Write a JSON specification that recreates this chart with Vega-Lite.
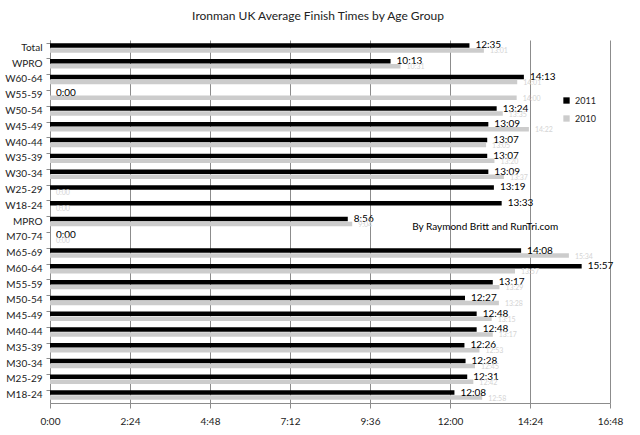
{
  "$schema": "https://vega.github.io/schema/vega-lite/v6.json",
  "autosize": "none",
  "width": 560,
  "height": 363,
  "padding": {"left": 50, "top": 40, "right": 30, "bottom": 32},
  "background": "white",
  "title": {
    "text": "Ironman UK Average Finish Times by Age Group",
    "font": "Lato",
    "fontSize": 12,
    "fontWeight": "normal",
    "color": "#222222",
    "anchor": "middle",
    "dx": -12,
    "offset": 17
  },
  "config": {
    "view": {"stroke": "transparent"},
    "font": "Lato"
  },
  "data": {
    "values": [
      {"group": "Total", "year": "2011", "min": 755, "label": "12:35"},
      {"group": "Total", "year": "2010", "min": 781, "label": "13:01"},
      {"group": "WPRO", "year": "2011", "min": 613, "label": "10:13"},
      {"group": "WPRO", "year": "2010", "min": 631, "label": "10:31"},
      {"group": "W60-64", "year": "2011", "min": 853, "label": "14:13"},
      {"group": "W60-64", "year": "2010", "min": 841, "label": "14:01"},
      {"group": "W55-59", "year": "2011", "min": 0, "label": "0:00"},
      {"group": "W55-59", "year": "2010", "min": 840, "label": "14:00"},
      {"group": "W50-54", "year": "2011", "min": 804, "label": "13:24"},
      {"group": "W50-54", "year": "2010", "min": 815, "label": "13:35"},
      {"group": "W45-49", "year": "2011", "min": 789, "label": "13:09"},
      {"group": "W45-49", "year": "2010", "min": 862, "label": "14:22"},
      {"group": "W40-44", "year": "2011", "min": 787, "label": "13:07"},
      {"group": "W40-44", "year": "2010", "min": 785, "label": "13:05"},
      {"group": "W35-39", "year": "2011", "min": 787, "label": "13:07"},
      {"group": "W35-39", "year": "2010", "min": 800, "label": "13:20"},
      {"group": "W30-34", "year": "2011", "min": 789, "label": "13:09"},
      {"group": "W30-34", "year": "2010", "min": 817, "label": "13:37"},
      {"group": "W25-29", "year": "2011", "min": 799, "label": "13:19"},
      {"group": "W25-29", "year": "2010", "min": 0, "label": "0:00"},
      {"group": "W18-24", "year": "2011", "min": 813, "label": "13:33"},
      {"group": "W18-24", "year": "2010", "min": 0, "label": "0:00"},
      {"group": "MPRO", "year": "2011", "min": 536, "label": "8:56"},
      {"group": "MPRO", "year": "2010", "min": 544, "label": "9:04"},
      {"group": "M70-74", "year": "2011", "min": 0, "label": "0:00"},
      {"group": "M70-74", "year": "2010", "min": 0, "label": "0:00"},
      {"group": "M65-69", "year": "2011", "min": 848, "label": "14:08"},
      {"group": "M65-69", "year": "2010", "min": 934, "label": "15:34"},
      {"group": "M60-64", "year": "2011", "min": 957, "label": "15:57"},
      {"group": "M60-64", "year": "2010", "min": 837, "label": "13:57"},
      {"group": "M55-59", "year": "2011", "min": 797, "label": "13:17"},
      {"group": "M55-59", "year": "2010", "min": 809, "label": "13:29"},
      {"group": "M50-54", "year": "2011", "min": 747, "label": "12:27"},
      {"group": "M50-54", "year": "2010", "min": 808, "label": "13:28"},
      {"group": "M45-49", "year": "2011", "min": 768, "label": "12:48"},
      {"group": "M45-49", "year": "2010", "min": 795, "label": "13:15"},
      {"group": "M40-44", "year": "2011", "min": 768, "label": "12:48"},
      {"group": "M40-44", "year": "2010", "min": 797, "label": "13:17"},
      {"group": "M35-39", "year": "2011", "min": 746, "label": "12:26"},
      {"group": "M35-39", "year": "2010", "min": 773, "label": "12:53"},
      {"group": "M30-34", "year": "2011", "min": 748, "label": "12:28"},
      {"group": "M30-34", "year": "2010", "min": 765, "label": "12:45"},
      {"group": "M25-29", "year": "2011", "min": 751, "label": "12:31"},
      {"group": "M25-29", "year": "2010", "min": 762, "label": "12:42"},
      {"group": "M18-24", "year": "2011", "min": 728, "label": "12:08"},
      {"group": "M18-24", "year": "2010", "min": 778, "label": "12:58"}
    ]
  },
  "encoding": {
    "y": {
      "field": "group",
      "type": "nominal",
      "sort": null,
      "scale": {"paddingInner": 0.4, "paddingOuter": 0.2},
      "axis": {
        "title": null,
        "bandPosition": 0,
        "labelFontSize": 10,
        "labelColor": "#222222",
        "labelPadding": 4,
        "domainColor": "#8c8c8c",
        "tickColor": "#8c8c8c",
        "tickSize": 4
      }
    },
    "yOffset": {
      "field": "year",
      "type": "nominal",
      "sort": ["2011", "2010"],
      "scale": {"paddingInner": 0.1}
    },
    "x": {
      "field": "min",
      "type": "quantitative",
      "scale": {"domain": [0, 1008], "nice": false},
      "axis": {
        "title": null,
        "values": [0, 144, 288, 432, 576, 720, 864, 1008],
        "labelExpr": "floor(datum.value / 60) + ':' + (datum.value % 60 < 10 ? '0' : '') + (datum.value % 60)",
        "labelFlush": false,
        "labelFontSize": 10,
        "labelColor": "#222222",
        "labelPadding": 8,
        "grid": true,
        "gridColor": "#8c8c8c",
        "domainColor": "#8c8c8c",
        "tickColor": "#8c8c8c",
        "tickSize": 5
      }
    }
  },
  "layer": [
    {
      "mark": {"type": "bar"},
      "encoding": {
        "color": {
          "field": "year",
          "type": "nominal",
          "scale": {"domain": ["2011", "2010"], "range": ["#000000", "#cccccc"]},
          "legend": {
            "title": null,
            "orient": "none",
            "legendX": 512,
            "legendY": 56,
            "symbolType": "square",
            "symbolSize": 40,
            "labelFontSize": 9,
            "labelColor": "#222222",
            "rowPadding": 8
          }
        }
      }
    },
    {
      "transform": [{"filter": "datum.year == '2011'"}],
      "mark": {"type": "text", "align": "left", "baseline": "middle", "dx": 6, "fontSize": 10, "color": "#000000"},
      "encoding": {"text": {"field": "label"}}
    },
    {
      "transform": [{"filter": "datum.year == '2010'"}],
      "mark": {"type": "text", "align": "left", "baseline": "middle", "dx": 6, "dy": 1, "fontSize": 7, "color": "#d4d4d4"},
      "encoding": {"text": {"field": "label"}}
    },
    {
      "data": {"values": [{"group": "MPRO", "min": 652, "note": "By Raymond Britt and RunTri.com"}]},
      "mark": {"type": "text", "align": "left", "baseline": "middle", "dy": 5, "fontSize": 10, "color": "#000000"},
      "encoding": {
        "x": {"field": "min", "type": "quantitative"},
        "y": {"field": "group", "type": "nominal"},
        "yOffset": null,
        "text": {"field": "note"}
      }
    }
  ]
}
